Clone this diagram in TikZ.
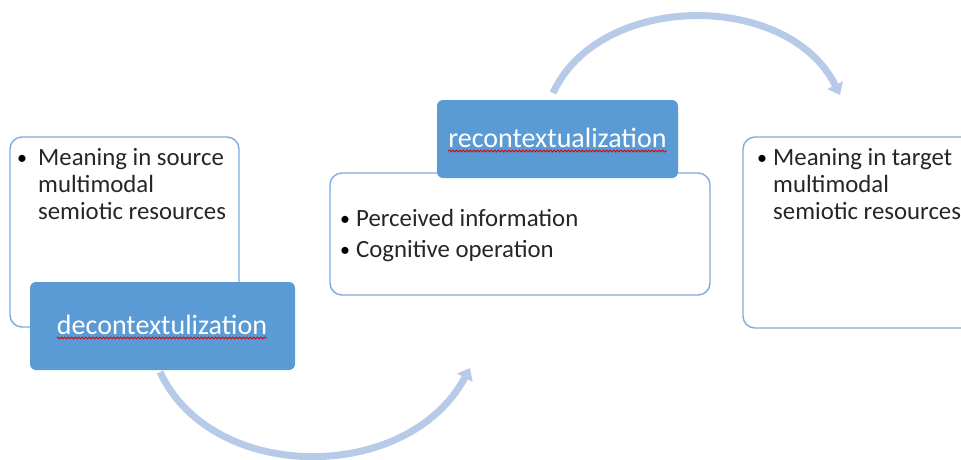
\documentclass[tikz,border=0pt]{standalone}
\usepackage{fontspec}
\setmainfont{Carlito}
\usetikzlibrary{arrows.meta,decorations.pathmorphing}
\definecolor{boxline}{RGB}{125,172,222}
\definecolor{darkfill}{RGB}{91,155,213}
\definecolor{arrowc}{RGB}{183,203,233}
\tikzset{
  whitebox/.style={draw=boxline,line width=1.4pt,rounded corners=12pt,fill=white,inner sep=0pt},
  darkbox/.style={fill=darkfill,draw=none,rounded corners=6pt,inner sep=0pt,text=white,font=\fontsize{28}{32}\selectfont},
  txt/.style={anchor=base west,inner sep=0pt,font=\fontsize{24.8}{27}\selectfont,text=black!85},
  bul/.style={anchor=base west,inner sep=0pt,font=\fontsize{20}{27}\selectfont,text=black},
  flow/.style={draw=arrowc,line width=7pt,-{Triangle[length=11pt,width=17pt]}},
  squig/.style={draw=red!85!black,line width=0.8pt,decorate,decoration={snake,amplitude=1pt,segment length=3.5pt}}
}
\begin{document}
\begin{tikzpicture}[x=1pt,y=-1pt]
\useasboundingbox (0,0) rectangle (961,459);
% arrows
\coordinate (b1) at (160,372);
\coordinate (b2) at (470,368);
\coordinate (t1) at (553,93);
\coordinate (t2) at (840,95);
\draw[flow] (b1) .. controls (212,484) and (408,484) .. (b2);
\draw[flow] (t1) .. controls (600,-9) and (789,-9) .. (t2);
% white boxes
\node[whitebox,minimum width=229pt,minimum height=190pt] (src) at (124.5,232) {};
\node[whitebox,minimum width=380pt,minimum height=122pt] (mid) at (520,234) {};
\node[whitebox,minimum width=232pt,minimum height=191pt] (tgt) at (859,232.5) {};
% dark boxes
\node[darkbox,minimum width=265pt,minimum height=88pt] (dec) at (162.5,326) {};
\node[darkbox,minimum width=241pt,minimum height=78pt] (rec) at (557.5,139) {};
\node[darkbox,anchor=base] (dect) at (162,334) {decontextulization};
\node[darkbox,anchor=base] (rect) at (557.5,147) {recontextualization};
\draw[squig] ([yshift=-4pt]dect.base west) -- ([yshift=-4pt]dect.base east);
\draw[squig] ([yshift=-4pt]rect.base west) -- ([yshift=-4pt]rect.base east);
% texts source
\node[bul] (s0) at (17,164) {•};
\node[txt] (s1) at (38,165) {Meaning in source};
\node[txt] (s2) at (38,192) {multimodal};
\node[txt] (s3) at (38,219) {semiotic resources};
% mid
\node[bul] (m0) at (340,225) {•};
\node[txt] (m1) at (356,226) {Perceived information};
\node[bul] (m2) at (340,256) {•};
\node[txt] (m3) at (356,257) {Cognitive operation};
% target
\node[bul] (g0) at (757,164) {•};
\node[txt] (g1) at (773,165) {Meaning in target};
\node[txt] (g2) at (773,192) {multimodal};
\node[txt] (g3) at (773,219) {semiotic resources};
\end{tikzpicture}
\end{document}
